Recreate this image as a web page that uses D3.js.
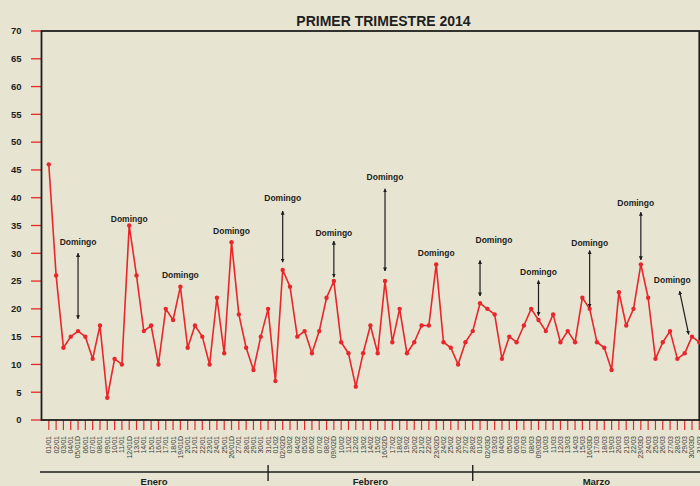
<!DOCTYPE html>
<html>
<head>
<meta charset="utf-8">
<script src="https://cdn.jsdelivr.net/npm/d3@7"></script>
<style>
	body { margin: 0; background: #e7e5d1; }
	svg { display: block; font-family: Arial, "Liberation Sans", sans-serif; }
</style>
</head>
<body>
<div id="chart"></div>
<script>
var w = 700, h = 486;

// casos diarios, 1 enero - 31 marzo 2014
var valores = [
	46, 26, 13, 15, 16, 15, 11, 17, 4, 11, 10, 35, 26, 16, 17, 10, 20, 18, 24, 13, 17, 15, 10, 22, 12, 32, 19, 13, 9, 15, 20,
	7, 27, 24, 15, 16, 12, 16, 22, 25, 14, 12, 6, 12, 17, 12, 25, 14, 20, 12, 14, 17, 17, 28, 14, 13, 10, 14, 16,
	21, 20, 19, 11, 15, 14, 17, 20, 18, 16, 19, 14, 16, 14, 22, 20, 14, 13, 9, 23, 17, 20, 28, 22, 11, 14, 16, 11, 12, 15, 14
];

var dias = [
	"01/01","02/01","03/01","04/01","05/01D","06/01","07/01","08/01","09/01","10/01","11/01","12/01D","13/01","14/01","15/01","16/01",
	"17/01","18/01","19/01D","20/01","21/01","22/01","23/01","24/01","25/01","26/01D","27/01","28/01","29/01","30/01","31/01",
	"01/02","02/02D","03/02","04/02","05/02","06/02","07/02","08/02","09/02D","10/02","11/02","12/02","13/02","14/02","15/02",
	"16/02D","17/02","18/02","19/02","20/02","21/02","22/02","23/02D","24/02","25/02","26/02","27/02","28/02",
	"01/03","02/03D","03/03","04/03","05/03","06/03","07/03","08/03","09/03D","10/03","11/03","12/03","13/03","14/03","15/03",
	"16/03D","17/03","18/03","19/03","20/03","21/03","22/03","23/03D","24/03","25/03","26/03","27/03","28/03","29/03","30/03D","31/03"
];

var yTicks = [0, 5, 10, 15, 20, 25, 30, 35, 40, 45, 50, 55, 60, 65, 70];

var meses = ["Enero", "Febrero", "Marzo"];
var mesInicio = [0, 31, 59];

// day = indice del dia, text/top/bottom en unidades del eje y
var domingos = [
	{day: 4, text: 32.0, top: 30.0, bottom: 18.2},
	{day: 11, text: 36.2},
	{day: 18, text: 26.1},
	{day: 25, text: 34.0},
	{day: 32, text: 40.0, top: 37.6, bottom: 28.4},
	{day: 39, text: 33.7, top: 32.2, bottom: 25.7},
	{day: 46, text: 43.8, top: 41.6, bottom: 26.8},
	{day: 53, text: 30.1},
	{day: 59, text: 32.3, top: 28.7, bottom: 22.3, textShift: 1.9},
	{day: 67, text: 26.7, top: 25.1, bottom: 18.8},
	{day: 74, text: 31.9, top: 30.5, bottom: 20.3},
	{day: 81, text: 39.1, top: 37.4, bottom: 28.8, textShift: -0.7},
	{day: 88, text: 25.1, top: 23.2, bottom: 15.4, textShift: -2.7, topShift: -1.7, bottomShift: -0.45}
];

var plotL = 41.5, plotR = 699.3, plotT = 31, plotB = 420;

var x = d3.scaleLinear().domain([0, valores.length]).range([plotL, plotR]);
var y = d3.scaleLinear().domain([0, 70]).range([plotB, plotT]);

var svg = d3.select("#chart")
	.append("svg")
	.attr("width", w)
	.attr("height", h);

svg.append("rect")
	.attr("width", w)
	.attr("height", h)
	.attr("fill", "#e7e5d1");

var defs = svg.append("defs");
defs.append("marker")
	.attr("id", "punta")
	.attr("viewBox", "0 0 10 10")
	.attr("refX", 9)
	.attr("refY", 5)
	.attr("markerWidth", 4)
	.attr("markerHeight", 4)
	.attr("markerUnits", "userSpaceOnUse")
	.attr("orient", "auto-start-reverse")
	.append("path")
	.attr("d", "M0,0 L10,5 L0,10 z")
	.attr("fill", "#1e1e1e");

// titulo
svg.append("text")
	.attr("x", 383.5)
	.attr("y", 25.5)
	.attr("text-anchor", "middle")
	.attr("font-size", 14)
	.attr("font-weight", "bold")
	.attr("fill", "#1e1e1e")
	.text("PRIMER TRIMESTRE 2014");

// eje y: marcas rojas y etiquetas
svg.selectAll(".ytick")
	.data(yTicks)
	.enter()
	.append("line")
	.attr("class", "ytick")
	.attr("x1", 31)
	.attr("x2", plotL)
	.attr("y1", function(d){ return y(d); })
	.attr("y2", function(d){ return y(d); })
	.attr("stroke", "#e8262b")
	.attr("stroke-width", 1.3);

svg.selectAll(".ylabel")
	.data(yTicks)
	.enter()
	.append("text")
	.attr("class", "ylabel")
	.attr("x", 21.5)
	.attr("y", function(d){ return y(d); })
	.attr("dy", "0.35em")
	.attr("text-anchor", "end")
	.attr("font-size", 9.5)
	.attr("font-weight", "bold")
	.attr("fill", "#1e1e1e")
	.text(function(d){ return d; });

// eje x: marcas rojas y fechas giradas
svg.selectAll(".xtick")
	.data(dias)
	.enter()
	.append("line")
	.attr("class", "xtick")
	.attr("x1", function(d, i){ return x(i + 1); })
	.attr("x2", function(d, i){ return x(i + 1); })
	.attr("y1", plotB)
	.attr("y2", plotB + 10)
	.attr("stroke", "#e8262b")
	.attr("stroke-width", 1.2);

svg.selectAll(".xlabel")
	.data(dias)
	.enter()
	.append("text")
	.attr("class", "xlabel")
	.attr("transform", function(d, i){ return "translate(" + x(i + 1) + "," + (plotB + 16) + ") rotate(-90)"; })
	.attr("dy", "0.35em")
	.attr("text-anchor", "end")
	.attr("font-size", 7)
	.attr("fill", "#3a3a3a")
	.text(function(d){ return d; });

// marco del grafico
svg.append("rect")
	.attr("x", plotL)
	.attr("y", plotT)
	.attr("width", plotR - plotL)
	.attr("height", plotB - plotT)
	.attr("fill", "none")
	.attr("stroke", "#1e1e1e")
	.attr("stroke-width", 1.8);

// serie
var linea = d3.line()
	.x(function(d, i){ return x(i + 1); })
	.y(function(d){ return y(d); });

svg.append("path")
	.datum(valores)
	.attr("d", linea)
	.attr("fill", "none")
	.attr("stroke", "#e8262b")
	.attr("stroke-width", 1.6)
	.attr("stroke-linejoin", "round");

svg.selectAll(".punto")
	.data(valores)
	.enter()
	.append("circle")
	.attr("class", "punto")
	.attr("cx", function(d, i){ return x(i + 1); })
	.attr("cy", function(d){ return y(d); })
	.attr("r", 2.2)
	.attr("fill", "#e8262b");

// anotaciones "Domingo"
var flechas = domingos.filter(function(d){ return d.top != null; });
svg.selectAll(".flecha")
	.data(flechas)
	.enter()
	.append("line")
	.attr("class", "flecha")
	.attr("x1", function(d){ return x(d.day + 1 + (d.topShift || 0)); })
	.attr("x2", function(d){ return x(d.day + 1 + (d.bottomShift || 0)); })
	.attr("y1", function(d){ return y(d.top); })
	.attr("y2", function(d){ return y(d.bottom); })
	.attr("stroke", "#1e1e1e")
	.attr("stroke-width", 1.2)
	.attr("marker-start", "url(#punta)")
	.attr("marker-end", "url(#punta)");

svg.selectAll(".domingo")
	.data(domingos)
	.enter()
	.append("text")
	.attr("class", "domingo")
	.attr("x", function(d){ return x(d.day + 1 + (d.textShift || 0)); })
	.attr("y", function(d){ return y(d.text); })
	.attr("dy", "0.35em")
	.attr("text-anchor", "middle")
	.attr("font-size", 8.5)
	.attr("font-weight", "bold")
	.attr("fill", "#1e1e1e")
	.text("Domingo");

// llave de meses
var mesY = 472;
var cortes = mesInicio.slice(1).map(function(d){ return x(d); });
var bordes = [40].concat(cortes).concat([720]);

svg.append("line")
	.attr("x1", 40)
	.attr("x2", 720)
	.attr("y1", mesY)
	.attr("y2", mesY)
	.attr("stroke", "#1e1e1e")
	.attr("stroke-width", 1.6);

svg.selectAll(".corte")
	.data(cortes)
	.enter()
	.append("line")
	.attr("class", "corte")
	.attr("x1", function(d){ return d; })
	.attr("x2", function(d){ return d; })
	.attr("y1", mesY - 7)
	.attr("y2", mesY + 9)
	.attr("stroke", "#1e1e1e")
	.attr("stroke-width", 1.4);

svg.selectAll(".mes")
	.data(meses)
	.enter()
	.append("text")
	.attr("class", "mes")
	.attr("x", function(d, i){ return (bordes[i] + bordes[i + 1]) / 2; })
	.attr("y", 484.5)
	.attr("text-anchor", "middle")
	.attr("font-size", 9.5)
	.attr("font-weight", "bold")
	.attr("fill", "#1e1e1e")
	.text(function(d){ return d; });
</script>
</body>
</html>
